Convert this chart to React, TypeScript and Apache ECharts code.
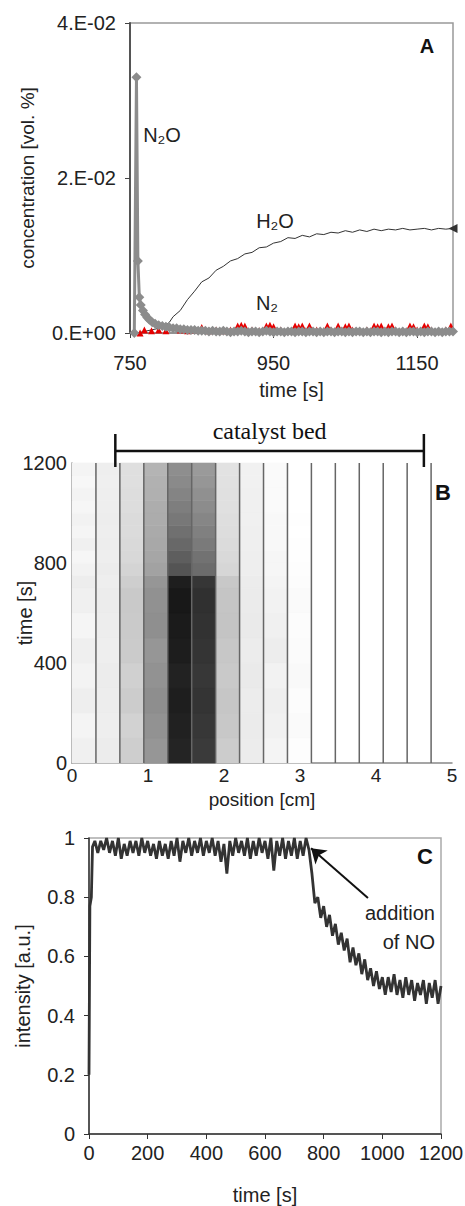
import React, { useEffect, useRef } from 'react';
import * as echarts from 'echarts';

// ---------- Panel A : concentrations after NO addition ----------
const aXTicks = [750, 950, 1150];

const n2oTime = [756, 759, 761, 763, 765, 768, 771, 774, 777, 781, 785, 790, 795,
  800, 805, 810, 815, 820, 825, 830, 835, 840, 845, 850, 855, 860, 865, 870, 875, 880, 885, 890, 895,
  900, 905, 910, 915, 920, 925, 930, 935, 940, 945, 950, 955, 960, 965, 970, 975, 980, 985, 990, 995,
  1000, 1005, 1010, 1015, 1020, 1025, 1030, 1035, 1040, 1045, 1050, 1055, 1060, 1065, 1070, 1075, 1080, 1085, 1090, 1095,
  1100, 1105, 1110, 1115, 1120, 1125, 1130, 1135, 1140, 1145, 1150, 1155, 1160, 1165, 1170, 1175, 1180, 1185, 1190, 1195, 1200];
const n2oConc = [0.0000, 0.0330, 0.0093, 0.0046, 0.0036, 0.0029, 0.0024, 0.0020, 0.0017, 0.0014, 0.0012, 0.0010, 0.0009,
  0.0008, 0.0007, 0.0006, 0.0006, 0.0005, 0.0005, 0.0004, 0.0004, 0.0004, 0.0003, 0.0003, 0.0003, 0.0002, 0.0003, 0.0002, 0.0002, 0.0003, 0.0002, 0.0001, 0.0002,
  0.0002, 0.0003, 0.0002, 0.0001, 0.0002, 0.0002, 0.0001, 0.0002, 0.0003, 0.0002, 0.0001, 0.0002, 0.0002, 0.0001, 0.0002, 0.0002, 0.0001, 0.0002, 0.0002, 0.0001,
  0.0002, 0.0002, 0.0001, 0.0002, 0.0001, 0.0002, 0.0002, 0.0001, 0.0002, 0.0002, 0.0001, 0.0002, 0.0001, 0.0002, 0.0002, 0.0001, 0.0002, 0.0001, 0.0002, 0.0002,
  0.0001, 0.0002, 0.0001, 0.0002, 0.0002, 0.0001, 0.0002, 0.0001, 0.0002, 0.0002, 0.0001, 0.0002, 0.0001, 0.0002, 0.0002, 0.0001, 0.0002, 0.0001, 0.0002, 0.0002, 0.0002];

const h2oTime = [750, 760, 770, 780, 790, 800, 805, 810, 820, 830, 840, 850, 860, 870, 880, 890, 900, 910, 920, 930, 940, 950,
  960, 970, 980, 990, 1000, 1010, 1020, 1030, 1040, 1050, 1060, 1070, 1080, 1090, 1100, 1110, 1120, 1130, 1140, 1150,
  1160, 1170, 1180, 1190, 1200];
const h2oConc = [0.0000, 0.0000, 0.0002, 0.0004, 0.0006, 0.0010, 0.0014, 0.0021, 0.0029, 0.0043, 0.0054, 0.0066, 0.0071, 0.0081, 0.0086, 0.0093, 0.0096, 0.0102, 0.0104, 0.0110, 0.0111, 0.0116,
  0.0118, 0.0123, 0.0122, 0.0126, 0.0124, 0.0128, 0.0127, 0.0130, 0.0129, 0.0132, 0.0130, 0.0133, 0.0131, 0.0134, 0.0132, 0.0134, 0.0133, 0.0135, 0.0133, 0.0134,
  0.0135, 0.0133, 0.0135, 0.0134, 0.0135];

const n2Time = [764, 770, 780, 790, 800, 810, 820, 830, 840, 850, 860, 870, 880, 890, 900, 905, 910, 920, 930, 940, 945, 950,
  960, 970, 980, 985, 990, 1000, 1010, 1020, 1025, 1030, 1040, 1050, 1055, 1060, 1070, 1080, 1090, 1095, 1100, 1110, 1115, 1120, 1130, 1140, 1145, 1150,
  1160, 1165, 1170, 1180, 1190, 1197];
const n2Conc = [0.0000, 0.0004, 0.0003, 0.0004, 0.0003, 0.0007, 0.0004, 0.0003, 0.0004, 0.0007, 0.0003, 0.0004, 0.0003, 0.0004, 0.0009, 0.0010, 0.0009, 0.0004, 0.0003, 0.0009, 0.0010, 0.0008,
  0.0004, 0.0003, 0.0009, 0.0008, 0.0009, 0.0009, 0.0004, 0.0003, 0.0009, 0.0004, 0.0009, 0.0008, 0.0009, 0.0004, 0.0003, 0.0004, 0.0009, 0.0008, 0.0009, 0.0008, 0.0009, 0.0004, 0.0003, 0.0009, 0.0008, 0.0004,
  0.0009, 0.0008, 0.0004, 0.0003, 0.0004, 0.0009];

// ---------- Panel B : grey-level map along the bed ----------
const stripEdges = [0, 0.315, 0.63, 0.945, 1.26, 1.575, 1.89, 2.205, 2.52, 2.835, 3.15];
const stripLines = [0.315, 0.63, 0.945, 1.26, 1.575, 1.89, 2.205, 2.52, 2.835, 3.15, 3.465, 3.78, 4.095, 4.41, 4.725];
const timeBands = [0, 100, 200, 300, 400, 500, 600, 700, 750, 800, 850, 900, 950, 1000, 1050, 1100, 1150, 1200];
const stripGray = [
  [240, 244, 238, 243, 239, 245, 240, 237, 242, 246, 240, 245, 242, 246, 243, 247, 244],
  [236, 238, 237, 236, 238, 237, 236, 238, 236, 238, 237, 238, 237, 238, 238, 239, 238],
  [206, 210, 204, 208, 203, 202, 201, 206, 212, 216, 217, 219, 219, 221, 221, 223, 223],
  [150, 146, 142, 146, 150, 143, 145, 150, 162, 166, 168, 170, 172, 173, 176, 177, 180],
  [36, 33, 30, 34, 29, 27, 24, 30, 84, 94, 104, 112, 120, 126, 132, 138, 142],
  [58, 55, 52, 55, 52, 50, 48, 54, 108, 114, 122, 128, 134, 140, 144, 150, 154],
  [204, 200, 198, 201, 199, 196, 197, 200, 214, 217, 219, 221, 222, 224, 224, 225, 226],
  [236, 235, 236, 234, 236, 234, 235, 236, 238, 238, 239, 239, 240, 240, 240, 241, 241],
  [244, 241, 239, 242, 237, 240, 242, 244, 246, 246, 248, 248, 248, 250, 250, 250, 250],
  [253, 250, 252, 249, 251, 252, 250, 252, 253, 254, 254, 255, 254, 255, 255, 255, 255],
];
const catalystBed = [0.57, 4.63];

// ---------- Panel C : intensity ----------
const cTime = [0, 3, 8, 12,
  20, 30, 40, 50, 60, 70, 80, 90, 100, 110, 120, 130, 140, 150, 160, 170, 180, 190,
  200, 210, 220, 230, 240, 250, 260, 270, 280, 290, 300, 310, 320, 330, 340, 350, 360, 370, 380, 390,
  400, 410, 420, 430, 440, 450, 460, 470, 480, 490, 500, 510, 520, 530, 540, 550, 560, 570, 580, 590,
  600, 610, 620, 630, 640, 650, 660, 670, 680, 690, 700, 710, 720, 730, 740, 750,
  760, 770, 780, 790, 800, 810, 820, 830, 840, 850, 860, 870, 880, 890, 900, 910, 920, 930, 940, 950,
  960, 970, 980, 990, 1000, 1010, 1020, 1030, 1040, 1050, 1060, 1070, 1080, 1090, 1100, 1110, 1120, 1130, 1140, 1150,
  1160, 1170, 1180, 1190, 1200];
const cIntensity = [0.20, 0.77, 0.80, 0.97,
  0.99, 0.95, 0.99, 0.96, 1.00, 0.95, 0.99, 0.94, 1.00, 0.93, 0.98, 0.94, 0.99, 0.95, 0.99, 0.94, 1.00, 0.95,
  0.99, 0.94, 0.98, 0.93, 0.99, 0.94, 0.98, 0.93, 0.99, 0.94, 1.00, 0.92, 0.99, 0.95, 1.00, 0.94, 0.99, 0.95, 1.00, 0.94,
  0.99, 0.95, 1.00, 0.94, 0.99, 0.92, 0.98, 0.88, 0.99, 0.94, 1.00, 0.95, 0.99, 0.94, 1.00, 0.93, 0.99, 0.94, 1.00, 0.95,
  0.99, 0.93, 1.00, 0.89, 0.99, 0.94, 1.00, 0.93, 0.99, 0.94, 1.00, 0.93, 0.99, 0.94, 1.00, 0.96,
  0.88, 0.78, 0.80, 0.73, 0.77, 0.70, 0.74, 0.67, 0.71, 0.64, 0.68, 0.62, 0.66, 0.58, 0.63, 0.57, 0.61, 0.54, 0.59, 0.52,
  0.56, 0.50, 0.55, 0.49, 0.53, 0.47, 0.53, 0.48, 0.54, 0.47, 0.52, 0.46, 0.53, 0.47, 0.52, 0.45, 0.51, 0.47, 0.52, 0.44,
  0.51, 0.46, 0.52, 0.44, 0.50];
const noArrow = { from: [951, 0.797], to: [757, 0.965] };

const SANS = '"Liberation Sans", Arial, Helvetica, sans-serif';
const SERIF = '"Liberation Serif", "Times New Roman", serif';
const TXT = '#222';

const sci = (v: number) => {
  if (v === 0) return '0.E+00';
  const e = Math.floor(Math.log10(Math.abs(v)) + 1e-9);
  const m = Math.round(v / Math.pow(10, e));
  return `${m}.E${e < 0 ? '-' : '+'}${String(Math.abs(e)).padStart(2, '0')}`;
};
const plain = (v: number) => String(Math.round(v * 1000) / 1000);

const zip = (xs: number[], ys: number[]) => xs.map((x, i) => [x, ys[i]]);

export default function App() {
  const ref = useRef<HTMLDivElement>(null);
  useEffect(() => {
    if (!ref.current) return;
    const chart = echarts.init(ref.current, null, { renderer: 'svg' });

    const heatCells: number[][] = [];
    stripGray.forEach((col, i) =>
      col.forEach((g, j) => heatCells.push([stripEdges[i], stripEdges[i + 1], timeBands[j], timeBands[j + 1], g]))
    );

    const h2oData: any[] = zip(h2oTime, h2oConc);
    const last = h2oData.length - 1;
    h2oData[last] = { value: h2oData[last], symbol: 'triangle', symbolSize: 9, symbolRotate: 90 };

    const axisLabel = (extra: any = {}) => ({ color: TXT, fontSize: 20, fontFamily: SANS, formatter: plain, ...extra });
    const nameStyle = (size = 20) => ({ color: TXT, fontSize: size, fontFamily: SANS, fontWeight: 'normal' });

    const option: any = {
      animation: false,
      backgroundColor: '#fff',
      grid: [
        { left: 130, top: 23, width: 323, height: 310, outerBoundsMode: 'none', containLabel: false, show: true, borderColor: '#999', borderWidth: 1.5, backgroundColor: 'transparent' },
        { left: 72, top: 463, width: 380, height: 300, outerBoundsMode: 'none', containLabel: false },
        { left: 89, top: 838, width: 352, height: 296, outerBoundsMode: 'none', containLabel: false, show: true, borderColor: '#aaa', borderWidth: 1.5, backgroundColor: 'transparent' },
      ],
      xAxis: [
        {
          gridIndex: 0, type: 'value', min: 750, max: 1200, interval: 200,
          name: 'time [s]', nameLocation: 'middle', nameGap: 47, nameMoveOverlap: false, nameTextStyle: nameStyle(),
          axisLine: { show: true, lineStyle: { color: '#888', width: 1.5 } },
          axisTick: { show: true, inside: false, length: 5, lineStyle: { color: '#444' }, customValues: aXTicks },
          axisLabel: axisLabel({ margin: 20, customValues: aXTicks }),
          splitLine: { show: false },
        },
        {
          gridIndex: 1, type: 'value', min: 0, max: 5, interval: 1,
          name: 'position [cm]', nameLocation: 'middle', nameGap: 27, nameMoveOverlap: false, nameTextStyle: nameStyle(19),
          axisLine: { show: true, lineStyle: { color: '#888', width: 1.5 } },
          axisTick: { show: false },
          axisLabel: axisLabel({ margin: 3, fontSize: 19 }),
          splitLine: { show: false },
        },
        {
          gridIndex: 2, type: 'value', min: 0, max: 1200, interval: 200,
          name: 'time [s]', nameLocation: 'middle', nameGap: 51, nameMoveOverlap: false, nameTextStyle: nameStyle(),
          axisLine: { show: true, lineStyle: { color: '#333', width: 1.5 } },
          axisTick: { show: true, inside: false, length: 5, lineStyle: { color: '#333' } },
          axisLabel: axisLabel({ margin: 9 }),
          splitLine: { show: false },
        },
      ],
      yAxis: [
        {
          gridIndex: 0, type: 'value', min: 0, max: 0.04, interval: 0.02,
          name: 'concentration [vol. %]', nameLocation: 'middle', nameGap: 93, nameMoveOverlap: false, nameTextStyle: nameStyle(19),
          axisLine: { show: true, lineStyle: { color: '#555', width: 2 } },
          axisTick: { show: true, inside: false, length: 5, lineStyle: { color: '#444' } },
          axisLabel: axisLabel({ margin: 14, formatter: (v: number) => sci(v) }),
          splitLine: { show: false },
        },
        {
          gridIndex: 1, type: 'value', min: 0, max: 1200, interval: 400,
          name: 'time [s]', nameLocation: 'middle', nameGap: 37, nameMoveOverlap: false, nameTextStyle: nameStyle(),
          axisLine: { show: true, lineStyle: { color: '#888', width: 1.5 } },
          axisTick: { show: false },
          axisLabel: axisLabel({ margin: 5 }),
          splitLine: { show: false },
        },
        {
          gridIndex: 2, type: 'value', min: 0, max: 1, interval: 0.2,
          name: 'intensity [a.u.]', nameLocation: 'middle', nameGap: 56, nameMoveOverlap: false, nameTextStyle: nameStyle(),
          axisLine: { show: true, lineStyle: { color: '#333', width: 1.5 } },
          axisTick: { show: true, inside: false, length: 5, lineStyle: { color: '#333' } },
          axisLabel: axisLabel({ margin: 14 }),
          splitLine: { show: false },
        },
      ],
      series: [
        // Panel A
        {
          name: 'H2O', type: 'line', xAxisIndex: 0, yAxisIndex: 0, data: h2oData,
          symbol: 'none', showSymbol: true, clip: false,
          lineStyle: { color: '#333', width: 1 }, itemStyle: { color: '#333' }, z: 2,
        },
        {
          name: 'N2', type: 'line', xAxisIndex: 0, yAxisIndex: 0, data: zip(n2Time, n2Conc),
          symbol: 'triangle', symbolSize: 7, showAllSymbol: true,
          lineStyle: { width: 0, opacity: 0 }, itemStyle: { color: '#e60000' }, z: 3,
        },
        {
          name: 'N2O', type: 'line', xAxisIndex: 0, yAxisIndex: 0, data: zip(n2oTime, n2oConc),
          symbol: 'diamond', symbolSize: 10, showAllSymbol: true,
          lineStyle: { color: '#8c8c8c', width: 3 }, itemStyle: { color: '#8c8c8c' }, z: 4,
        },
        // Panel B
        {
          type: 'custom', xAxisIndex: 1, yAxisIndex: 1, data: heatCells, encode: { x: [0, 1], y: [2, 3] },
          renderItem: (_p: any, api: any) => {
            const p0 = api.coord([api.value(0), api.value(3)]);
            const p1 = api.coord([api.value(1), api.value(2)]);
            const g = api.value(4);
            const c = `rgb(${g},${g},${g})`;
            return {
              type: 'rect',
              shape: { x: p0[0], y: p0[1], width: p1[0] - p0[0], height: p1[1] - p0[1] },
              style: { fill: c, stroke: c, lineWidth: 0.6 },
            };
          },
          z: 1, silent: true,
        },
        {
          type: 'custom', xAxisIndex: 1, yAxisIndex: 1, data: stripLines.map((x) => [x]), encode: { x: 0 },
          renderItem: (_p: any, api: any) => {
            const a = api.coord([api.value(0), 0]);
            const b = api.coord([api.value(0), 1200]);
            return { type: 'line', shape: { x1: a[0], y1: a[1], x2: b[0], y2: b[1] }, style: { stroke: '#666', lineWidth: 1.5 } };
          },
          z: 2, silent: true,
        },
        {
          type: 'custom', xAxisIndex: 1, yAxisIndex: 1, data: [catalystBed], encode: { x: [0, 1] }, clip: false,
          renderItem: (_p: any, api: any) => {
            const x0 = api.value(0), x1 = api.value(1);
            const l = api.coord([x0, 1248]);
            const r = api.coord([x1, 1248]);
            const lt = api.coord([x0, 1316]);
            const lb = api.coord([x0, 1184]);
            const rt = api.coord([x1, 1316]);
            const rb = api.coord([x1, 1184]);
            const tp = api.coord([(x0 + x1) / 2, 1330]);
            const st = { stroke: '#111', lineWidth: 2.5 };
            return {
              type: 'group',
              children: [
                { type: 'line', shape: { x1: l[0], y1: l[1], x2: r[0], y2: r[1] }, style: st },
                { type: 'line', shape: { x1: lt[0], y1: lt[1], x2: lb[0], y2: lb[1] }, style: st },
                { type: 'line', shape: { x1: rt[0], y1: rt[1], x2: rb[0], y2: rb[1] }, style: st },
                {
                  type: 'text', x: tp[0], y: tp[1],
                  style: { text: 'catalyst bed', fill: '#111', font: `24px ${SERIF}`, align: 'center', verticalAlign: 'middle' },
                },
              ],
            };
          },
          z: 5, silent: true,
        },
        // Panel C
        {
          name: 'intensity', type: 'line', xAxisIndex: 2, yAxisIndex: 2, data: zip(cTime, cIntensity),
          symbol: 'none', lineStyle: { color: '#333', width: 2.8 }, z: 3,
          markLine: {
            silent: true, animation: false,
            symbol: ['none', 'arrow'], symbolSize: 14,
            lineStyle: { color: '#111', width: 2, type: 'solid' },
            label: { show: false },
            data: [[{ coord: noArrow.from }, { coord: noArrow.to }]],
          },
        },
      ],
      graphic: [
        { type: 'text', x: 427, y: 46, style: { text: 'A', font: `bold 20px ${SANS}`, fill: '#111', align: 'center', verticalAlign: 'middle' } },
        { type: 'text', x: 162, y: 135, style: { text: 'N₂O', font: `20px ${SANS}`, fill: TXT, align: 'center', verticalAlign: 'middle' } },
        { type: 'text', x: 275, y: 221, style: { text: 'H₂O', font: `20px ${SANS}`, fill: TXT, align: 'center', verticalAlign: 'middle' } },
        { type: 'text', x: 267, y: 303, style: { text: 'N₂', font: `20px ${SANS}`, fill: TXT, align: 'center', verticalAlign: 'middle' } },
        { type: 'text', x: 443, y: 492, style: { text: 'B', font: `bold 22px ${SANS}`, fill: '#111', align: 'center', verticalAlign: 'middle' } },
        { type: 'text', x: 425, y: 856, style: { text: 'C', font: `bold 22px ${SANS}`, fill: '#111', align: 'center', verticalAlign: 'middle' } },
        { type: 'text', x: 435, y: 913, style: { text: 'addition', font: `20px ${SANS}`, fill: TXT, align: 'right', verticalAlign: 'middle' } },
        { type: 'text', x: 435, y: 942, style: { text: 'of NO', font: `20px ${SANS}`, fill: TXT, align: 'right', verticalAlign: 'middle' } },
      ],
    };
    chart.setOption(option);
    return () => chart.dispose();
  }, []);
  return <div ref={ref} style={{ position: 'absolute', left: 0, top: 0, width: 465, height: 1206 }} />;
}
